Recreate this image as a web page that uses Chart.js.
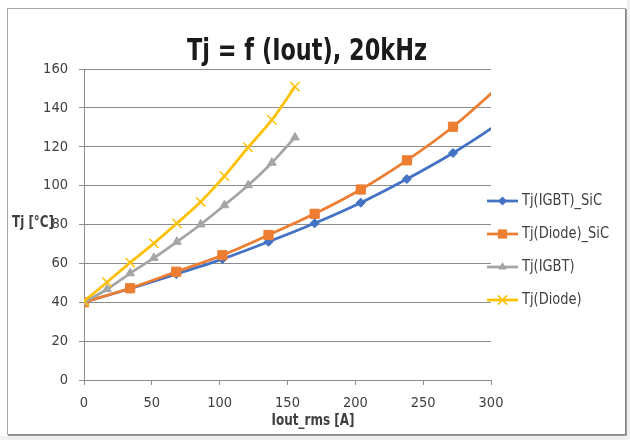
<!DOCTYPE html>
<html lang="en">
<head>
<meta charset="UTF-8">
<title>Tj = f (Iout), 20kHz</title>
<script src="https://cdn.jsdelivr.net/npm/chart.js@4.4.1/dist/chart.umd.min.js"></script>
<style>
  html, body { margin: 0; padding: 0; background: #fff; }
  #wrap { width: 630px; height: 440px; }
</style>
</head>
<body>
<div id="wrap"><canvas id="chart" width="630" height="440"></canvas></div>
<script>
// data
const seriesNames = ['Tj(IGBT)_SiC', 'Tj(Diode)_SiC', 'Tj(IGBT)', 'Tj(Diode)'];
const iSiC = [0, 34, 68, 102, 136, 170, 204, 238, 272, 306];
const tjIgbtSiC = [40, 47, 54.5, 62.2, 71.1, 80.6, 91.2, 103.4, 116.8, 132];
const tjDiodeSiC = [40, 47.2, 55.7, 64.2, 74.6, 85.5, 98, 113, 130.3, 151];
const iSi = [0, 17, 34, 51.5, 68.5, 86, 103.5, 121, 138.5, 155.5];
const tjIgbt = [40, 46.7, 54.9, 62.8, 71.1, 80, 89.9, 100.2, 111.8, 124.8];
const tjDiode = [40.5, 50.3, 60.4, 70.3, 80.6, 91.7, 104.9, 119.7, 133.8, 150.9];
const xTicks = [0, 50, 100, 150, 200, 250, 300];
const yTicks = [0, 20, 40, 60, 80, 100, 120, 140, 160];

const colors = ['#4472C4', '#ED7D31', '#A5A5A5', '#FFC000'];
const markers = ['rectRot', 'rect', 'triangle', 'crossRot'];
const markerSize = [4.5, 6.5, 5, 6.5];
const FONT = "'DejaVu Sans Condensed', 'Liberation Sans Narrow', sans-serif";
const gridColor = '#8c8c8c';
const textColor = '#404040';

function pts(xs, ys) {
  return xs.map((x, i) => ({ x: x, y: ys[i] }));
}

const seriesData = [pts(iSiC, tjIgbtSiC), pts(iSiC, tjDiodeSiC), pts(iSi, tjIgbt), pts(iSi, tjDiode)];

const datasets = seriesData.map((d, i) => ({
  label: seriesNames[i],
  data: d,
  borderColor: colors[i],
  backgroundColor: colors[i],
  borderWidth: 2.75,
  tension: 0.3,
  pointStyle: markers[i],
  pointRadius: markerSize[i],
  pointBorderWidth: i === 3 ? 1.5 : 1,
  pointBackgroundColor: colors[i],
  pointBorderColor: colors[i],
  order: 4 - i
}));

// the fonts here are wider than the original, so squeeze text to its width
function fitText(ctx, text, x, y, width, align) {
  const k = width / ctx.measureText(text).width;
  ctx.save();
  ctx.translate(x, y);
  ctx.scale(k, 1);
  ctx.textAlign = align;
  ctx.fillText(text, 0, 0);
  ctx.restore();
}

// draw a marker by hand for the legend
function drawMarker(ctx, style, x, y, r) {
  ctx.beginPath();
  if (style === 'rectRot') {
    ctx.moveTo(x, y - r); ctx.lineTo(x + r, y); ctx.lineTo(x, y + r); ctx.lineTo(x - r, y);
    ctx.closePath(); ctx.fill();
  } else if (style === 'rect') {
    const s = r * Math.SQRT1_2;
    ctx.rect(x - s, y - s, 2 * s, 2 * s); ctx.fill();
  } else if (style === 'triangle') {
    const w = r * Math.sqrt(3) / 2;
    ctx.moveTo(x, y - r); ctx.lineTo(x + w, y + r / 2); ctx.lineTo(x - w, y + r / 2);
    ctx.closePath(); ctx.fill();
  } else {
    const s = r * Math.SQRT1_2;
    ctx.moveTo(x - s, y - s); ctx.lineTo(x + s, y + s);
    ctx.moveTo(x + s, y - s); ctx.lineTo(x - s, y + s);
    ctx.lineWidth = 1.5; ctx.stroke();
  }
}

const framePlugin = {
  id: 'frame',
  beforeDraw(chart) {
    const ctx = chart.ctx;
    ctx.save();
    ctx.fillStyle = '#f0f0f0';
    ctx.fillRect(0, 0, 630, 440);
    ctx.fillStyle = '#ffffff';
    ctx.fillRect(0, 0, 627, 436);
    ctx.strokeStyle = '#a6a6a6';
    ctx.lineWidth = 1;
    ctx.strokeRect(7.5, 8.5, 618, 426);
    ctx.strokeStyle = '#7f7f7f';
    ctx.lineWidth = 1.5;
    ctx.beginPath();
    ctx.moveTo(626, 9); ctx.lineTo(626, 435); ctx.lineTo(8, 435);
    ctx.stroke();
    ctx.restore();
  }
};

const textPlugin = {
  id: 'texts',
  afterDraw(chart) {
    const ctx = chart.ctx;
    ctx.save();
    // title
    ctx.fillStyle = '#1a1a1a';
    ctx.font = 'bold 31px ' + FONT;
    ctx.textBaseline = 'alphabetic';
    fitText(ctx, 'Tj = f (Iout), 20kHz', 307, 60, 240, 'center');
    // axis titles
    ctx.fillStyle = textColor;
    ctx.font = 'bold 16.5px ' + FONT;
    ctx.textBaseline = 'middle';
    fitText(ctx, 'Iout_rms [A]', 313, 421, 83, 'center');
    fitText(ctx, 'Tj [°C]', 12, 223, 42, 'left');
    // legend
    ctx.font = '16px ' + FONT;
    const k = 80 / ctx.measureText(seriesNames[0]).width;
    chart.data.datasets.forEach((ds, i) => {
      const y = 201 + i * 33;
      ctx.strokeStyle = ds.borderColor;
      ctx.fillStyle = ds.borderColor;
      ctx.lineWidth = 2.75;
      ctx.beginPath();
      ctx.moveTo(487, y); ctx.lineTo(518, y);
      ctx.stroke();
      drawMarker(ctx, ds.pointStyle, 502.5, y, ds.pointRadius);
      ctx.fillStyle = textColor;
      ctx.textAlign = 'left';
      ctx.save();
      ctx.translate(522, y);
      ctx.scale(k, 1);
      ctx.fillText(ds.label, 0, 0);
      ctx.restore();
    });
    ctx.restore();
  }
};

new Chart(document.getElementById('chart'), {
  type: 'line',
  data: { datasets: datasets },
  options: {
    responsive: false,
    animation: false,
    layout: { padding: { top: 69, right: 139, left: 0, bottom: 0 } },
    plugins: {
      legend: { display: false },
      tooltip: { enabled: false }
    },
    scales: {
      x: {
        type: 'linear',
        min: 0,
        max: 300,
        afterBuildTicks: s => { s.ticks = xTicks.map(v => ({ value: v })); },
        afterFit: s => { s.height = 60; },
        grid: { drawOnChartArea: false, drawTicks: true, tickLength: 5, color: gridColor },
        border: { color: gridColor, width: 1 },
        ticks: { color: textColor, font: { family: FONT, size: 14.5 }, padding: 10, maxRotation: 0 }
      },
      y: {
        min: 0,
        max: 160,
        afterBuildTicks: s => { s.ticks = yTicks.map(v => ({ value: v })); },
        afterFit: s => { s.width = 84; },
        grid: { color: gridColor, tickLength: 5 },
        border: { color: gridColor, width: 1 },
        ticks: { color: textColor, font: { family: FONT, size: 14.5 }, padding: 11 }
      }
    }
  },
  plugins: [framePlugin, textPlugin]
});
</script>
</body>
</html>
